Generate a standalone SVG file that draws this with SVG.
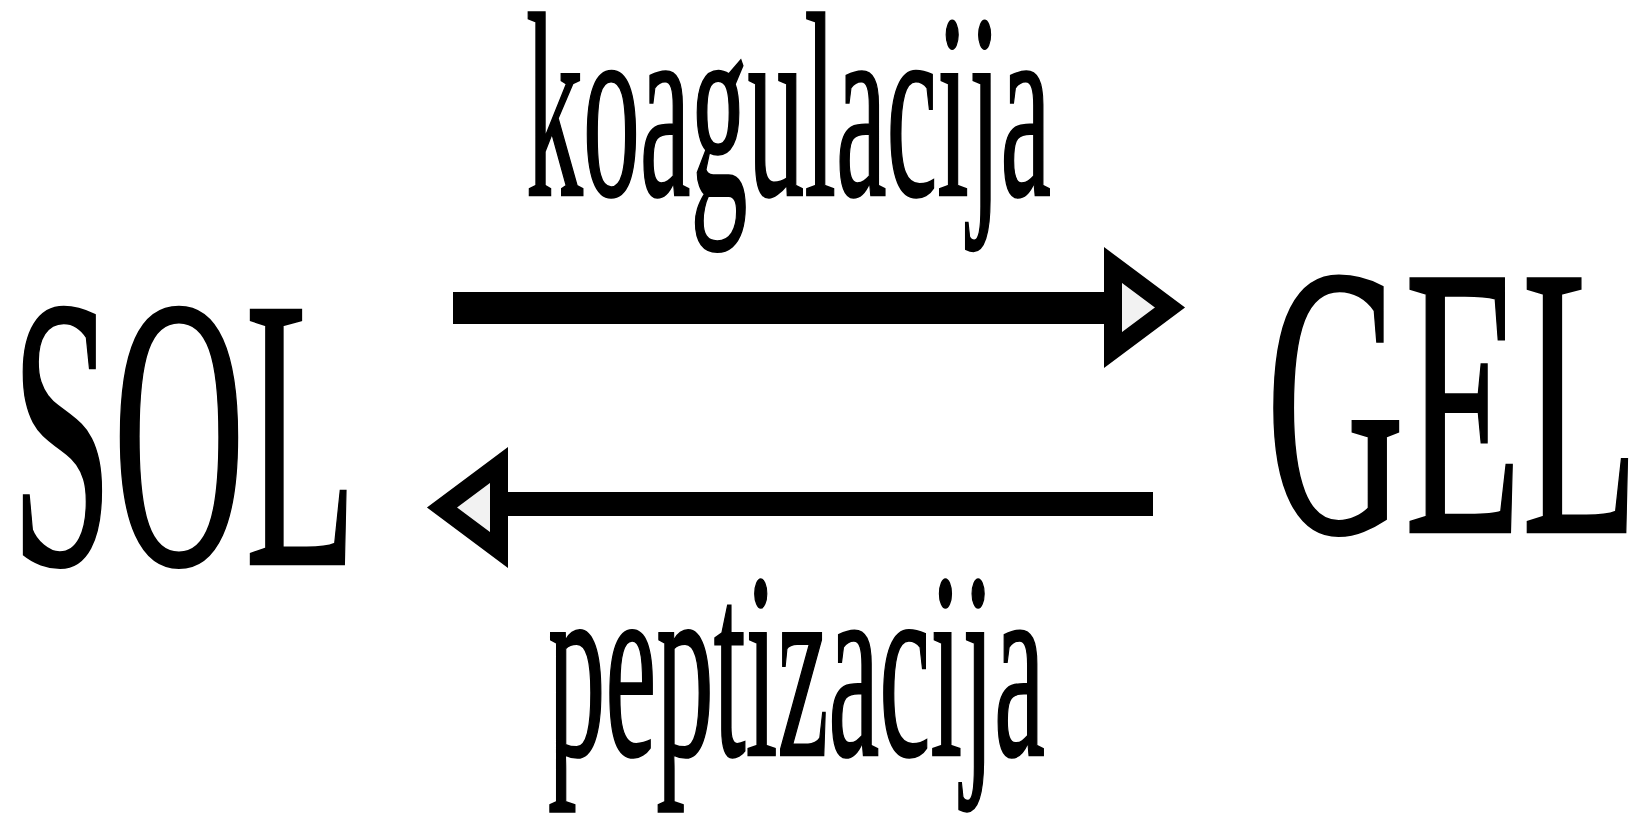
<svg xmlns="http://www.w3.org/2000/svg" xmlns:xlink="http://www.w3.org/1999/xlink" width="1638" height="814" viewBox="0 0 1638 814">
  <style>
    .t { font-family: "Liberation Serif", "Times New Roman", serif; fill: #000; stroke: #000; stroke-width: 2.5; }
    .shaft { stroke: #000; stroke-linecap: butt; fill: none; }
    .head { fill: #f2f2f2; stroke: #000; stroke-width: 18; stroke-linejoin: miter; stroke-miterlimit: 6; }
  </style>
  <defs>
    <path id="ah" class="head" d="M0,-42.5 L57,0 L0,42.5 Z"/>
  </defs>
  <rect width="1638" height="814" fill="#fff"/>
  <g id="node-sol">
    <text class="t" x="11" y="564" font-size="388" textLength="346" lengthAdjust="spacingAndGlyphs">SOL</text>
  </g>
  <g id="node-gel">
    <text class="t" x="1266" y="532" font-size="387" textLength="373" lengthAdjust="spacingAndGlyphs">GEL</text>
  </g>
  <g id="connectors">
    <g id="edge-koagulacija">
      <line class="shaft" x1="453" y1="308" x2="1115" y2="308" stroke-width="32"/>
      <use xlink:href="#ah" transform="translate(1113,307.5)"/>
      <text class="t" x="526" y="195" font-size="263" textLength="525" lengthAdjust="spacingAndGlyphs">koagulacija</text>
    </g>
    <g id="edge-peptizacija">
      <line class="shaft" x1="497" y1="504" x2="1153" y2="504" stroke-width="24"/>
      <use xlink:href="#ah" transform="translate(499,507.5) scale(-1,1)"/>
      <text class="t" x="548" y="755" font-size="265" textLength="497" lengthAdjust="spacingAndGlyphs">peptizacija</text>
    </g>
  </g>
</svg>
